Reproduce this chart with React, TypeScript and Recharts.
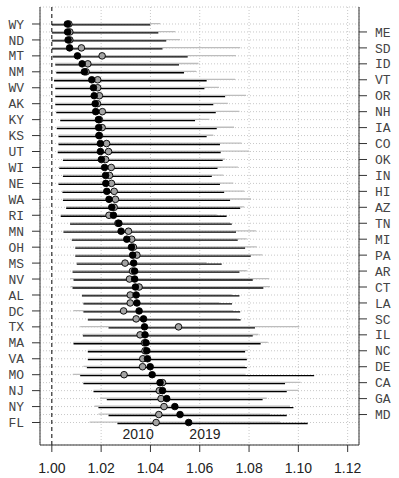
import React from 'react'
import { Bar, CartesianGrid, ComposedChart, Line, ReferenceLine, XAxis, YAxis } from 'recharts'

// states, ordered by the 2019 estimate (top = smallest)
const states = [
  'WY', 'ME', 'ND', 'SD', 'MT', 'ID', 'NM', 'VT', 'WV', 'OR',
  'AK', 'NH', 'KY', 'IA', 'KS', 'CO', 'UT', 'OK', 'WI', 'IN',
  'NE', 'HI', 'WA', 'AZ', 'RI', 'TN', 'MN', 'MI', 'OH', 'PA',
  'MS', 'AR', 'NV', 'CT', 'AL', 'LA', 'DC', 'SC', 'TX', 'IL',
  'MA', 'NC', 'VA', 'DE', 'MO', 'CA', 'NJ', 'GA', 'NY', 'MD', 'FL',
]

const est2019 = [
  1.0063, 1.0064, 1.0066, 1.0072, 1.0104, 1.0123, 1.0132, 1.0162, 1.0169, 1.0172,
  1.0176, 1.0178, 1.0189, 1.019, 1.0191, 1.0197, 1.0197, 1.0201, 1.0214, 1.0218,
  1.0219, 1.0223, 1.0232, 1.0243, 1.025, 1.0272, 1.0281, 1.0304, 1.0323, 1.0328,
  1.0332, 1.0336, 1.0336, 1.0339, 1.0342, 1.0345, 1.0354, 1.0372, 1.0376, 1.0378,
  1.0382, 1.0385, 1.0388, 1.0399, 1.0407, 1.0439, 1.0449, 1.0466, 1.0499, 1.052, 1.0555,
]

const est2010 = [
  1.0069, 1.0073, 1.0073, 1.012, 1.0204, 1.0146, 1.0139, 1.0186, 1.0186, 1.0193,
  1.0185, 1.0205, 1.0193, 1.0204, 1.0193, 1.0222, 1.023, 1.0218, 1.0241, 1.0234,
  1.0242, 1.0253, 1.0258, 1.0253, 1.0232, 1.0268, 1.0311, 1.0324, 1.0331, 1.0345,
  1.0297, 1.0327, 1.0315, 1.0354, 1.0318, 1.0318, 1.0291, 1.0342, 1.0514, 1.0358,
  1.0376, 1.0378, 1.0369, 1.0368, 1.0293, 1.0449, 1.0436, 1.0443, 1.0455, 1.0434, 1.0423,
]

const lo2019 = [
  1.0, 1.0, 1.0, 1.0, 1.0004, 1.0014, 1.0018, 1.0009, 1.0014, 1.0014,
  1.0014, 1.0018, 1.0034, 1.002, 1.0027, 1.0027, 1.0024, 1.0045, 1.003, 1.0045,
  1.0027, 1.0043, 1.0045, 1.0058, 1.0036, 1.0074, 1.0047, 1.0081, 1.0095, 1.0095,
  1.0101, 1.0084, 1.0088, 1.0084, 1.0122, 1.0128, 1.0128, 1.0146, 1.023, 1.0126,
  1.0088, 1.0146, 1.0146, 1.0142, 1.0115, 1.0128, 1.0169, 1.0223, 1.0189, 1.023, 1.0266,
]

const hi2019 = [
  1.0399, 1.0432, 1.0464, 1.0449, 1.0551, 1.0516, 1.0536, 1.0628, 1.0619, 1.0703,
  1.0655, 1.0665, 1.0581, 1.0669, 1.0628, 1.0682, 1.0685, 1.0693, 1.0672, 1.0649,
  1.0682, 1.0699, 1.0723, 1.0764, 1.0709, 1.073, 1.0747, 1.0754, 1.0784, 1.0807,
  1.0689, 1.0761, 1.0815, 1.0858, 1.0761, 1.0731, 1.0764, 1.0766, 1.0824, 1.0815,
  1.0847, 1.0784, 1.0791, 1.0791, 1.1064, 1.0946, 1.0953, 1.0855, 1.098, 1.0953, 1.1038,
]

const lo2010 = [
  1.0, 1.0, 1.0, 1.0, 1.0004, 1.0014, 1.0018, 1.0009, 1.0014, 1.0014,
  1.0014, 1.0018, 1.0034, 1.002, 1.0027, 1.0027, 1.0024, 1.0045, 1.003, 1.0045,
  1.0027, 1.0043, 1.0045, 1.0058, 1.0036, 1.0074, 1.0047, 1.0081, 1.0095, 1.0095,
  1.0101, 1.0084, 1.0074, 1.0077, 1.0122, 1.0128, 1.0088, 1.0146, 1.0115, 1.0126,
  1.0088, 1.0146, 1.0146, 1.0128, 1.0085, 1.0128, 1.0169, 1.0196, 1.0173, 1.0189, 1.0153,
]

const hi2010 = [
  1.0439, 1.05, 1.052, 1.0764, 1.0747, 1.0595, 1.0585, 1.0743, 1.0678, 1.0788,
  1.0714, 1.0761, 1.0639, 1.0739, 1.0655, 1.077, 1.08, 1.0703, 1.0755, 1.0696,
  1.0736, 1.078, 1.0808, 1.078, 1.0669, 1.0723, 1.0828, 1.0791, 1.0831, 1.0854,
  1.0628, 1.0791, 1.0882, 1.0885, 1.073, 1.068, 1.0736, 1.0753, 1.1004, 1.0838,
  1.0876, 1.0795, 1.0791, 1.0784, 1.0786, 1.1009, 1.1, 1.0872, 1.0966, 1.0885, 1.0926,
]

const xTicks = [1.0, 1.02, 1.04, 1.06, 1.08, 1.1, 1.12]
const gridTicks = [1.01, 1.02, 1.03, 1.04, 1.05, 1.06, 1.07, 1.08, 1.09, 1.1, 1.11, 1.12]
const leftStates = states.filter((_, i) => i % 2 === 0)
const rightStates = states.filter((_, i) => i % 2 === 1)

const data = states.map((s, i) => ({
  state: s,
  r2010: [lo2010[i], hi2010[i]],
  r2019: [lo2019[i], hi2019[i]],
  e2010: est2010[i],
  e2019: est2019[i],
}))

const xDomain = [0.9952, 1.1246]
const yPad = { top: 13, bottom: 18.5 }
const mono = '"Liberation Mono", "Courier New", monospace'
const sans = '"Liberation Sans", Arial, sans-serif'
const ink = '#333'

export default function App() {
  return (
    <div style={{ position: 'absolute', left: 0, top: 0 }}>
      <ComposedChart
        width={399}
        height={478}
        data={data}
        layout="vertical"
        barGap={0}
        margin={{ top: 7, right: 0, bottom: 0, left: 0 }}
      >
        {/* hidden axes that only feed the dotted grid */}
        <XAxis xAxisId="g" type="number" domain={xDomain} ticks={gridTicks} allowDataOverflow hide />
        <YAxis yAxisId="g" type="category" dataKey="state" padding={yPad} interval={0} hide />
        <CartesianGrid xAxisId="g" yAxisId="g" stroke="#c8c8c8" strokeDasharray="1 2" />

        <XAxis
          type="number"
          domain={xDomain}
          ticks={xTicks}
          allowDataOverflow
          height={33}
          tickSize={7}
          tickMargin={11}
          tickFormatter={(v: number) => v.toFixed(2)}
          tick={{ fill: '#222', fontSize: 14, fontFamily: sans }}
          tickLine={{ stroke: ink }}
          axisLine={{ stroke: ink }}
        />
        <XAxis
          xAxisId="top"
          orientation="top"
          type="number"
          domain={xDomain}
          height={0}
          tick={false}
          tickLine={false}
          axisLine={{ stroke: ink }}
        />
        <YAxis
          yAxisId="L"
          type="category"
          dataKey="state"
          ticks={leftStates}
          interval={0}
          padding={yPad}
          width={40}
          tickSize={8}
          tickMargin={8}
          tick={{ fill: '#444', fontSize: 13, fontFamily: mono }}
          tickLine={{ stroke: ink }}
          axisLine={{ stroke: ink }}
        />
        <YAxis
          yAxisId="R"
          orientation="right"
          type="category"
          dataKey="state"
          ticks={rightStates}
          interval={0}
          padding={yPad}
          width={40}
          tickSize={8}
          tickMargin={8}
          tick={{ fill: '#444', fontSize: 13, fontFamily: mono }}
          tickLine={{ stroke: ink }}
          axisLine={{ stroke: ink }}
        />

        <ReferenceLine yAxisId="L" x={1} stroke="#000" strokeDasharray="4 3" />

        <Bar yAxisId="L" dataKey="r2010" fill="#bdbdbd" barSize={1.3} isAnimationActive={false} />
        <Bar yAxisId="L" dataKey="r2019" fill="#000" barSize={1.3} isAnimationActive={false} />

        <Line
          yAxisId="L"
          dataKey="e2010"
          stroke="none"
          dot={{ r: 3.3, fill: '#a3a3a3', stroke: '#000', strokeWidth: 0.9 }}
          activeDot={false}
          isAnimationActive={false}
        />
        <Line
          yAxisId="L"
          dataKey="e2019"
          stroke="none"
          dot={{ r: 3.3, fill: '#000', stroke: '#000', strokeWidth: 0.9 }}
          activeDot={false}
          isAnimationActive={false}
        />

        <ReferenceLine
          yAxisId="L"
          x={1.035}
          stroke="none"
          label={{ value: '2010', position: 'insideBottom', offset: 6, fill: '#222', fontSize: 14, fontFamily: sans }}
        />
        <ReferenceLine
          yAxisId="L"
          x={1.0621}
          stroke="none"
          label={{ value: '2019', position: 'insideBottom', offset: 6, fill: '#222', fontSize: 14, fontFamily: sans }}
        />
      </ComposedChart>
    </div>
  )
}
